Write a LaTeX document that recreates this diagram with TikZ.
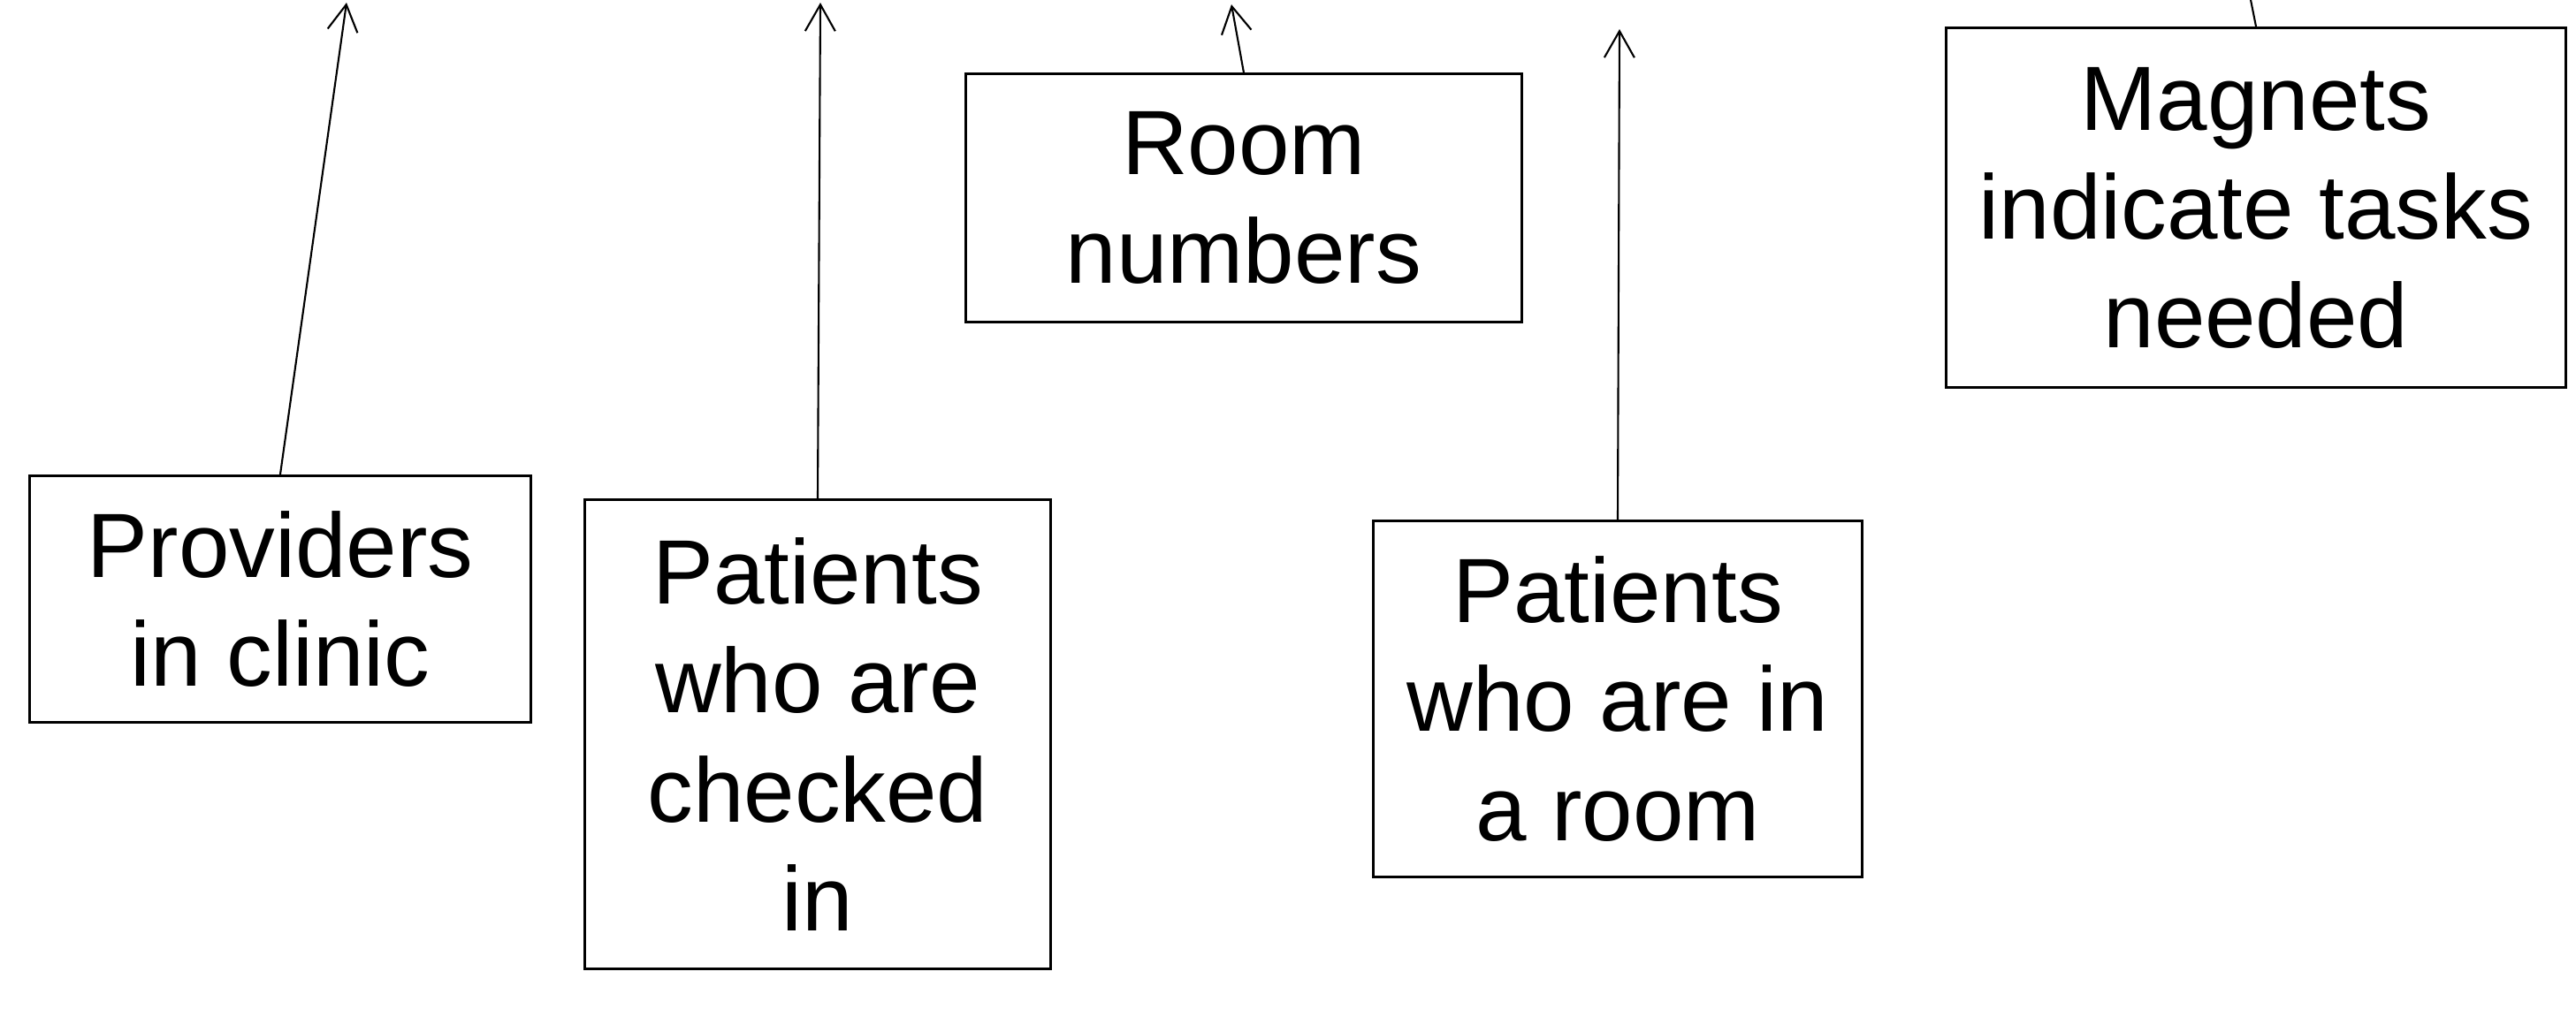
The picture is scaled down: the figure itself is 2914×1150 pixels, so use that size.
\documentclass[tikz,border=0pt]{standalone}
\usepackage{fontspec}
\setmainfont{Liberation Sans}
\usetikzlibrary{arrows.meta}
\begin{document}
\begin{tikzpicture}[x=0.01cm,y=-0.01cm,
  label box/.style={draw=black,line width=0.85pt,fill=white,inner sep=0pt,
    align=center,font=\fontsize{29.4}{35}\selectfont},
  pointer/.style={line width=0.6pt,-{Straight Barb[length=0.3cm,width=0.34cm,line width=0.6pt]}}]
  % page frame
  \useasboundingbox (0,0) rectangle (2914,1150);
  \clip (0,0) rectangle (2914,1150);

  % labels
  \node[label box,minimum width=5.66cm,minimum height=2.79cm] (prov) at (317,678)
    {Providers\\in clinic};
  \node[label box,minimum width=5.26cm,minimum height=5.31cm] (chk) at (925,831)
    {Patients\\who are\\checked\\in};
  \node[label box,minimum width=6.28cm,minimum height=2.80cm] (room) at (1407,224)
    {Room\\numbers};
  \node[label box,minimum width=5.52cm,minimum height=4.03cm] (inroom) at (1830,791)
    {Patients\\who are in\\a room};
  \node[label box,minimum width=7.01cm,minimum height=4.07cm] (mag) at (2552,235)
    {Magnets\\indicate tasks\\needed};

  % pointer targets
  \coordinate (tprov) at (392,3);
  \coordinate (tchk) at (928,3);
  \coordinate (troom) at (1393,5);
  \coordinate (tinroom) at (1832,33);
  \coordinate (tmag) at (2538,-40);

  % pointers
  \draw[pointer] (prov.north) -- (tprov);
  \draw[pointer] (chk.north) -- (tchk);
  \draw[pointer] (room.north) -- (troom);
  \draw[pointer] (inroom.north) -- (tinroom);
  \draw[pointer] (mag.north) -- (tmag);
\end{tikzpicture}
\end{document}
